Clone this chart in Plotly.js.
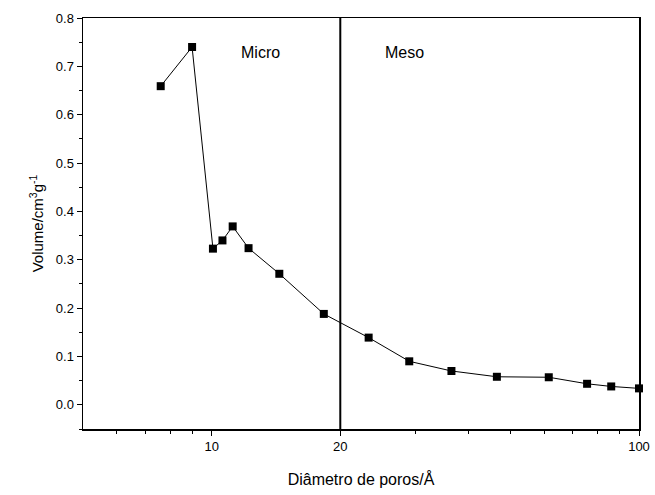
<!DOCTYPE html>
<html>
<head>
<meta charset="utf-8">
<script src="https://cdn.plot.ly/plotly-3.0.1.min.js"></script>
<style>body{margin:0;padding:0;background:#fff}</style>
</head>
<body>
<div id="chart" style="width:655px;height:495px"></div>
<script>
const poreDiameter = [7.6, 9.0, 10.07, 10.6, 11.2, 12.2, 14.4, 18.3, 23.3, 29.0, 36.4, 46.5, 61.5, 75.6, 86.1, 100];
const poreVolume = [0.659, 0.740, 0.323, 0.340, 0.369, 0.324, 0.271, 0.188, 0.139, 0.090, 0.070, 0.058, 0.057, 0.0435, 0.038, 0.034];
const xTickVals = [10, 20, 100];
const xTickText = ['10', '20', '100'];
const xMinorVals = [6, 7, 8, 9, 30, 40, 50, 60, 70, 80, 90];
const yTickVals = [0, 0.1, 0.2, 0.3, 0.4, 0.5, 0.6, 0.7, 0.8];
const regionLabels = ['Micro', 'Meso'];
const regionLabelX = [13.0, 28.2];
const regionLabelY = [0.728, 0.728];
const boundaryX = 20;

const font = {family: 'Liberation Sans, Arial, sans-serif', color: '#000'};

const trace = {
  x: poreDiameter,
  y: poreVolume,
  type: 'scatter',
  mode: 'lines+markers',
  line: {color: '#000', width: 1},
  marker: {symbol: 'square', size: 8, color: '#000'},
  showlegend: false,
  cliponaxis: false
};

const layout = {
  width: 655,
  height: 495,
  margin: {l: 83, r: 16, t: 18, b: 66},
  paper_bgcolor: '#fff',
  plot_bgcolor: '#fff',
  font: Object.assign({size: 12}, font),
  xaxis: {
    type: 'log',
    range: [Math.log10(5), 2],
    tickmode: 'array',
    tickvals: xTickVals,
    ticktext: xTickText,
    ticks: 'outside',
    ticklen: 5,
    tickwidth: 1,
    tickcolor: '#000',
    minor: {tickmode: 'array', tickvals: xMinorVals, ticks: 'outside', ticklen: 3, tickcolor: '#000', showgrid: false},
    showline: true,
    linecolor: '#000',
    linewidth: 1.5,
    mirror: true,
    showgrid: false,
    zeroline: false,
    tickfont: Object.assign({size: 13}, font),
    title: {text: 'Diâmetro de poros/Å', font: Object.assign({size: 16}, font), standoff: 20}
  },
  yaxis: {
    range: [-0.05, 0.8],
    tickmode: 'array',
    tickvals: yTickVals,
    ticktext: yTickVals.map(v => v.toFixed(1)),
    ticks: 'outside',
    ticklen: 5,
    tickwidth: 1,
    tickcolor: '#000',
    minor: {dtick: 0.05, ticks: 'outside', ticklen: 3, tickcolor: '#000', showgrid: false},
    showline: true,
    linecolor: '#000',
    linewidth: 1.5,
    mirror: true,
    showgrid: false,
    zeroline: false,
    tickfont: Object.assign({size: 13}, font),
    title: {text: 'Volume/cm<sup>3</sup>g<sup>-1</sup>', font: Object.assign({size: 15}, font), standoff: 8}
  },
  shapes: [{
    type: 'line', xref: 'x', yref: 'paper',
    x0: boundaryX, x1: boundaryX, y0: 0, y1: 1,
    line: {color: '#000', width: 2}
  }],
  annotations: regionLabels.map((t, i) => ({
    x: Math.log10(regionLabelX[i]), y: regionLabelY[i],
    xref: 'x', yref: 'y', text: t, showarrow: false,
    font: Object.assign({size: 16}, font)
  }))
};

Plotly.newPlot('chart', [trace], layout, {displayModeBar: false, staticPlot: true});
</script>
</body>
</html>
